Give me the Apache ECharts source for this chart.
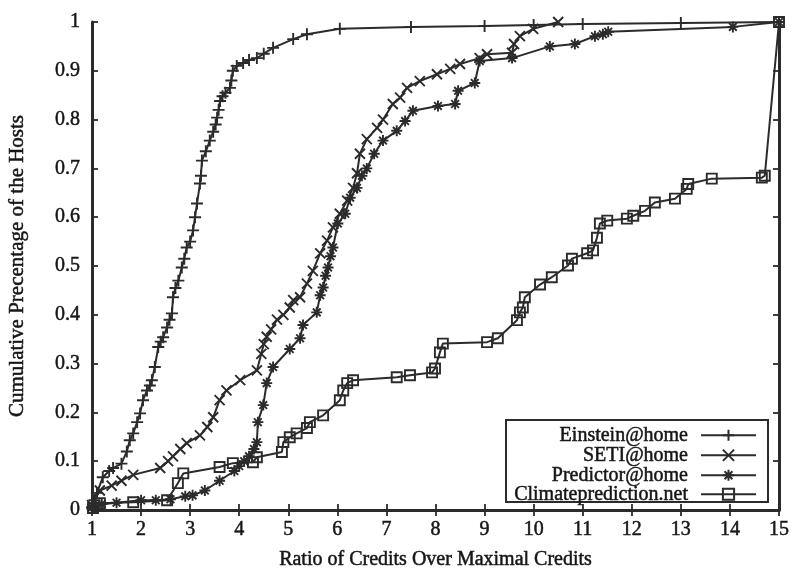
<!DOCTYPE html>
<html>
<head>
<meta charset="utf-8">
<script src="https://cdn.jsdelivr.net/npm/echarts@6/dist/echarts.min.js"></script>
<style>
  html, body { margin: 0; padding: 0; background: #fff; }
  #chart { width: 793px; height: 570px; }
</style>
</head>
<body>
<div id="chart"></div>
<script>
// Cumulative share of hosts vs. ratio of credits over maximal credits, [ratio, share]
const einstein = [
  [1.0,0.005],[1.05,0.02],[1.1,0.035],[1.22,0.067],[1.35,0.08],[1.43,0.086],[1.6,0.095],
  [1.71,0.12],[1.77,0.143],[1.84,0.157],[1.92,0.18],[1.98,0.198],[2.04,0.225],[2.12,0.245],
  [2.18,0.255],[2.22,0.266],[2.28,0.293],[2.35,0.334],[2.4,0.345],[2.45,0.354],[2.53,0.374],
  [2.58,0.39],[2.63,0.403],[2.65,0.436],[2.7,0.455],[2.76,0.47],[2.83,0.497],[2.88,0.515],
  [2.93,0.538],[3.0,0.55],[3.06,0.573],[3.1,0.6],[3.14,0.628],[3.2,0.669],[3.22,0.685],
  [3.24,0.716],[3.32,0.735],[3.4,0.757],[3.47,0.775],[3.52,0.79],[3.55,0.804],[3.58,0.82],
  [3.61,0.838],[3.66,0.848],[3.72,0.855],[3.81,0.865],[3.84,0.88],[3.87,0.9],[3.95,0.91],
  [4.08,0.916],[4.2,0.922],[4.36,0.926],[4.5,0.935],[4.69,0.947],[5.1,0.965],[5.38,0.975],
  [6.05,0.986],[7.5,0.99],[9.0,0.992],[10.0,0.994],[11.0,0.996],[13.0,0.998],[15.0,1.0]
];
const seti = [
  [1.0,0.01],[1.16,0.04],[1.4,0.05],[1.6,0.06],[1.84,0.072],[2.39,0.086],[2.55,0.1],
  [2.65,0.11],[2.8,0.125],[2.93,0.137],[3.2,0.153],[3.35,0.17],[3.47,0.19],[3.6,0.225],
  [3.74,0.245],[4.02,0.266],[4.36,0.286],[4.45,0.32],[4.5,0.34],[4.56,0.355],[4.65,0.37],
  [4.77,0.39],[4.9,0.4],[5.03,0.415],[5.1,0.43],[5.24,0.436],[5.38,0.464],[5.5,0.49],
  [5.65,0.526],[5.79,0.552],[5.91,0.579],[6.05,0.607],[6.2,0.634],[6.32,0.66],[6.4,0.69],
  [6.46,0.73],[6.6,0.76],[6.81,0.783],[6.93,0.8],[7.13,0.832],[7.28,0.845],[7.42,0.865],
  [7.68,0.879],[8.03,0.893],[8.3,0.904],[8.5,0.914],[8.9,0.926],[9.05,0.934],[9.56,0.937],
  [9.6,0.955],[9.72,0.971],[9.99,0.986],[10.5,1.0]
];
const predictor = [
  [1.0,0.005],[1.2,0.012],[1.5,0.015],[2.0,0.02],[2.3,0.02],[2.6,0.022],[2.9,0.028],
  [3.05,0.03],[3.3,0.04],[3.6,0.06],[3.9,0.08],[4.0,0.09],[4.1,0.1],[4.2,0.11],[4.3,0.125],
  [4.36,0.139],[4.38,0.18],[4.49,0.215],[4.56,0.26],[4.69,0.293],[5.03,0.33],[5.24,0.352],
  [5.3,0.379],[5.58,0.405],[5.65,0.44],[5.71,0.456],[5.76,0.48],[5.81,0.497],[5.86,0.52],
  [5.91,0.538],[6.01,0.587],[6.16,0.607],[6.26,0.64],[6.4,0.66],[6.5,0.685],[6.6,0.7],
  [6.75,0.73],[6.93,0.757],[7.21,0.777],[7.38,0.797],[7.54,0.818],[8.05,0.828],[8.4,0.832],
  [8.46,0.859],[8.8,0.875],[8.9,0.92],[9.56,0.926],[10.33,0.95],[10.84,0.955],[11.25,0.971],
  [11.41,0.975],[11.52,0.98],[14.06,0.99],[15.0,1.0]
];
const climate = [
  [1.02,0.004],[1.16,0.014],[1.84,0.016],[2.53,0.02],[2.75,0.055],[2.86,0.075],[3.6,0.088],
  [3.87,0.096],[4.28,0.098],[4.36,0.108],[4.87,0.119],[4.9,0.139],[5.03,0.149],[5.17,0.157],
  [5.38,0.168],[5.44,0.18],[5.71,0.194],[6.05,0.225],[6.12,0.245],[6.2,0.26],[6.32,0.266],
  [7.21,0.272],[7.48,0.276],[7.93,0.282],[7.99,0.29],[8.09,0.323],[8.15,0.341],[9.05,0.344],
  [9.27,0.352],[9.66,0.389],[9.72,0.405],[9.78,0.415],[9.82,0.436],[10.13,0.462],[10.37,0.477],
  [10.7,0.501],[10.78,0.515],[11.09,0.526],[11.21,0.532],[11.29,0.558],[11.35,0.587],[11.5,0.593],
  [11.9,0.597],[12.03,0.603],[12.27,0.613],[12.47,0.63],[12.88,0.638],[13.12,0.658],[13.15,0.668],
  [13.63,0.679],[14.65,0.681],[14.71,0.685],[15.0,1.0]
];
const seriesNames = ['Einstein@home', 'SETI@home', 'Predictor@home', 'Climateprediction.net'];
const xTitle = 'Ratio of Credits Over Maximal Credits';
const yTitle = 'Cumulative Precentage of the Hosts';

const INK = '#2b2b2b';
const TEXT = '#161616';
const FONT = '"Liberation Serif", "DejaVu Serif", serif';

// heavier serif text: a thin outline in the text colour
function serif(size) {
  return { color: TEXT, fontFamily: FONT, fontSize: size, textBorderColor: TEXT, textBorderWidth: 0.5 };
}

const marks = {
  plus:  'path://M5 0 L5 10 M0 5 L10 5',
  cross: 'path://M0 0 L10 10 M10 0 L0 10',
  star:  'path://M5 0 L5 10 M0 5 L10 5 M1.5 1.5 L8.5 8.5 M8.5 1.5 L1.5 8.5',
  box:   'path://M0 0 L10 0 L10 10 L0 10 Z'
};

function lineSeries(name, data, symbol, size) {
  return {
    name, type: 'line', data, symbol, symbolSize: size,
    showAllSymbol: true,
    lineStyle: { color: INK, width: 2 },
    itemStyle: { color: 'transparent', borderColor: INK, borderWidth: 1.9 },
    emphasis: { disabled: true },
    z: 3
  };
}

const chart = echarts.init(document.getElementById('chart'), null, { renderer: 'canvas' });

const axisCommon = {
  type: 'value',
  axisLine: { show: true, lineStyle: { color: INK, width: 3 } },
  axisTick: { show: true, inside: true, length: 6, lineStyle: { color: INK, width: 1.8 } },
  splitLine: { show: false }
};

// one legend per entry, all pinned to the same right edge so labels line up on the right
const legendRows = [425, 445, 465, 484];
const legends = seriesNames.map((n, i) => ({
  data: [n],
  orient: 'vertical',
  align: 'right',
  right: 36,
  top: legendRows[i],
  padding: 0,
  itemWidth: 55,
  itemHeight: 14,
  selectedMode: false,
  z: 10,
  textStyle: Object.assign(serif(20), { padding: [0, 8, 0, 0] })
}));

chart.setOption({
  animation: false,
  backgroundColor: '#fff',
  grid: { left: 92, right: 14, top: 22, bottom: 60, containLabel: false, outerBoundsMode: 'none' },
  xAxis: [
    Object.assign({}, axisCommon, {
      min: 1, max: 15, interval: 1, position: 'bottom',
      axisLabel: Object.assign(serif(20), { margin: 10 }),
      name: xTitle, nameLocation: 'middle', nameGap: 40,
      nameTextStyle: serif(20)
    }),
    Object.assign({}, axisCommon, {
      min: 1, max: 15, interval: 1, position: 'top',
      axisLabel: { show: false }
    })
  ],
  yAxis: [
    Object.assign({}, axisCommon, {
      min: 0, max: 1, interval: 0.1, position: 'left',
      axisLabel: Object.assign(serif(20), { margin: 12 }),
      name: yTitle, nameLocation: 'middle', nameGap: 64, nameRotate: 90,
      nameTextStyle: serif(21)
    }),
    Object.assign({}, axisCommon, {
      min: 0, max: 1, interval: 0.1, position: 'right',
      axisLabel: { show: false }
    })
  ],
  legend: legends,
  graphic: [{
    type: 'rect',
    shape: { x: 506, y: 420, width: 262, height: 82 },
    style: { fill: '#fff', stroke: INK, lineWidth: 2 },
    z: 5
  }],
  series: [
    lineSeries(seriesNames[0], einstein, marks.plus, 12),
    lineSeries(seriesNames[1], seti, marks.cross, 10),
    lineSeries(seriesNames[2], predictor, marks.star, 11),
    lineSeries(seriesNames[3], climate, marks.box, 10)
  ]
});
</script>
</body>
</html>
